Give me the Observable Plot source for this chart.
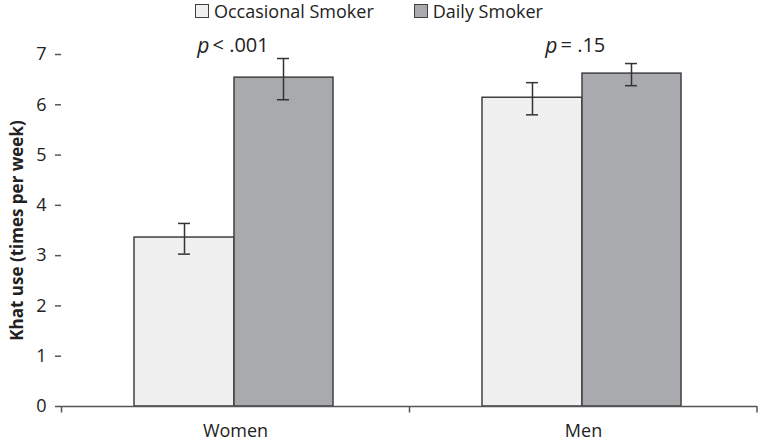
<!DOCTYPE html>
<html><head><meta charset="utf-8">
<script src="https://cdn.jsdelivr.net/npm/d3@7"></script>
<script src="https://cdn.jsdelivr.net/npm/@observablehq/plot@0.6"></script>
<style>
body{margin:0;background:#fff;font-family:"Open Sans",sans-serif;}
#wrap{position:relative;width:758px;height:444px;}
#legend{position:absolute;top:0;left:195px;display:flex;align-items:center;font-size:18px;line-height:22px;color:#222;height:22px;}
.sw{width:12px;height:12px;border:1.5px solid #404040;margin-right:5px;}
.item{display:flex;align-items:center;margin-right:40px;}
</style></head><body>
<div id="wrap"><div id="legend"></div><div id="chart"></div></div>
<script>
const groups = ["Women", "Men"];
const series = ["Occasional Smoker", "Daily Smoker"];
const colors = ["#f0f0f0", "#a9aaae"];
const occasionalMean = [3.36, 6.14];
const occasionalLo = [3.03, 5.80];
const occasionalHi = [3.64, 6.44];
const dailyMean = [6.54, 6.62];
const dailyLo = [6.10, 6.38];
const dailyHi = [6.92, 6.82];
const pLabels = ["< .001", "= .15"];
const yTicks = [0,1,2,3,4,5,6,7];

const occ = groups.map((g,i)=>({group:g, value:occasionalMean[i], lo:occasionalLo[i], hi:occasionalHi[i]}));
const day = groups.map((g,i)=>({group:g, value:dailyMean[i], lo:dailyLo[i], hi:dailyHi[i]}));
const pv = groups.map((g,i)=>({group:g, label:pLabels[i], y:7.17}));

const leg = document.getElementById("legend");
series.forEach((s,i)=>{
  const it=document.createElement("div"); it.className="item";
  it.innerHTML=`<div class="sw" style="background:${colors[i]}"></div><span>${s}</span>`;
  leg.appendChild(it);
});

const W=758, ml=61, mr=1, bw=(W-ml-mr)/2;
const stroke="#404040";
const chart = Plot.plot({
  width: W, height: 444,
  marginLeft: ml, marginRight: mr, marginTop: 54, marginBottom: 38,
  style: {fontFamily:"Open Sans, sans-serif", fontSize:"18px", color:"#222", background:"#fff"},
  x: {domain: groups, padding: 0, axis: null},
  y: {domain: [0,7], axis: null},
  marks: [
    Plot.barY(occ, {x:"group", y:"value", fill:colors[0], stroke:stroke, strokeWidth:1.5, insetLeft:73, insetRight:bw-173}),
    Plot.barY(day, {x:"group", y:"value", fill:colors[1], stroke:stroke, strokeWidth:1.5, insetLeft:173, insetRight:bw-272}),
    Plot.ruleX(occ, {x:"group", y1:"lo", y2:"hi", dx:123-bw/2, stroke:"#333", strokeWidth:1.5}),
    Plot.ruleX(day, {x:"group", y1:"lo", y2:"hi", dx:222-bw/2, stroke:"#333", strokeWidth:1.5}),
    Plot.tickY(occ, {x:"group", y:"lo", insetLeft:117, insetRight:bw-129, stroke:"#333", strokeWidth:1.5}),
    Plot.tickY(occ, {x:"group", y:"hi", insetLeft:117, insetRight:bw-129, stroke:"#333", strokeWidth:1.5}),
    Plot.tickY(day, {x:"group", y:"lo", insetLeft:216, insetRight:bw-228, stroke:"#333", strokeWidth:1.5}),
    Plot.tickY(day, {x:"group", y:"hi", insetLeft:216, insetRight:bw-228, stroke:"#333", strokeWidth:1.5}),
    Plot.ruleY([0], {stroke:"#555", strokeWidth:1.5}),
    Plot.ruleX(groups, {x:d=>d, dx:-bw/2, y1:0, y2:-0.13, stroke:"#555", strokeWidth:1.5}),
    Plot.ruleX(groups.slice(-1), {x:d=>d, dx:bw/2-0.5, y1:0, y2:-0.13, stroke:"#555", strokeWidth:1.5}),
    Plot.axisY(yTicks, {tickSize:6, tickPadding:9, tickFormat:"d", stroke:"#555", strokeWidth:1.5, fontSize:18, label:null}),
    Plot.ruleX([0], {frameAnchor:"left", y1:0, y2:7, stroke:"#555", strokeWidth:1.5}),
    Plot.axisX({tickSize:0, tickPadding:18, fontSize:18, label:null}),
    Plot.text(pv, {x:"group", y:"y", text:()=>"p", fontStyle:"italic", textAnchor:"end", dx:-26, fontSize:21}),
    Plot.text(pv, {x:"group", y:"y", text:"label", textAnchor:"start", dx:-23, fontSize:20}),
    Plot.text(["Khat use (times per week)"], {frameAnchor:"left", rotate:-90, textAnchor:"middle", dx:-44, y:3.5, fontWeight:"bold", fontSize:17})
  ]
});
document.getElementById("chart").appendChild(chart);
</script></body></html>
